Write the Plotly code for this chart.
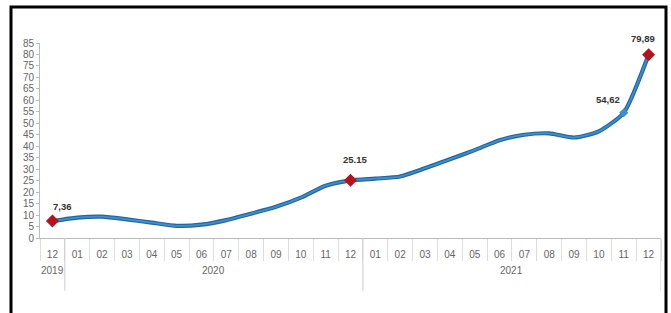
import plotly.graph_objects as go

years = ["2019"] + ["2020"] * 12 + ["2021"] * 12
months = ["12", "01", "02", "03", "04", "05", "06", "07", "08", "09", "10", "11", "12",
          "01", "02", "03", "04", "05", "06", "07", "08", "09", "10", "11", "12"]
values = [7.36, 8.9, 9.3, 8.1, 6.7, 5.3, 5.8, 7.8, 10.6, 13.6, 17.6, 22.8, 25.15,
          25.9, 26.8, 30.4, 34.3, 38.3, 42.6, 45.0, 45.6, 43.8, 46.5, 54.62, 79.89]
labeled_idx = [0, 12, 23, 24]
labels = ["7,36", "25.15", "54,62", "79,89"]
red_idx = [0, 12, 24]
y_ticks = list(range(0, 90, 5))

n = len(months)
xi = list(range(n))

fig = go.Figure()
fig.add_trace(go.Scatter(x=xi, y=values, mode="lines",
                         line=dict(color="#22659f", width=4.2, shape="spline", smoothing=0.6),
                         hoverinfo="skip", showlegend=False))
fig.add_trace(go.Scatter(x=xi, y=values, mode="lines",
                         line=dict(color="#3d90d0", width=1.8, shape="spline", smoothing=0.6),
                         showlegend=False))
fig.add_trace(go.Scatter(x=red_idx, y=[values[i] for i in red_idx], mode="markers",
                         marker=dict(symbol="diamond", size=10, color="#b5121b"),
                         showlegend=False))
fig.add_trace(go.Scatter(x=[23], y=[values[23]], mode="markers",
                         marker=dict(symbol="diamond", size=7, color="#3b8fd0"),
                         showlegend=False))
# invisible trace carrying the boundary-tick axis
bounds = [i + 0.5 for i in range(-1, n)]
fig.add_trace(go.Scatter(x=bounds, y=[None] * len(bounds), xaxis="x2", mode="lines",
                         showlegend=False, hoverinfo="skip"))

offsets = {0: (10, 15), 12: (4, 21), 23: (-16, 13), 24: (-6, 16)}
for i, t in zip(labeled_idx, labels):
    dx, dy = offsets[i]
    fig.add_annotation(x=i, y=values[i], xref="x", yref="y", text=f"<b>{t}</b>",
                       showarrow=False, xshift=dx, yshift=dy,
                       font=dict(size=9.5, color="#333333", family="Liberation Sans, Arial"))

# year labels and dividers
groups = []
for i, yv in enumerate(years):
    if not groups or groups[-1][0] != yv:
        groups.append([yv, i, i])
    else:
        groups[-1][2] = i
for yv, a, b in groups:
    fig.add_annotation(x=(a + b) / 2, y=-0.165, xref="x", yref="paper", text=yv,
                       yanchor="middle", xanchor="center",
                       showarrow=False, font=dict(size=10, color="#666666"))
    fig.add_shape(type="line", xref="x", yref="paper", x0=b + 0.5, x1=b + 0.5,
                  y0=0, y1=-0.27, line=dict(color="#cccccc", width=1))

# frame around the picture
L, R, T, B = 40, 10, 43, 75
W, H = 671, 313
pw, ph = W - L - R, H - T - B
def px(v):
    return (v - L) / pw
def py(v):
    return (H - B - v) / ph
fig.add_shape(type="rect", xref="paper", yref="paper",
              x0=px(11), x1=px(666), y0=py(330), y1=py(7),
              line=dict(color="black", width=3), fillcolor="rgba(0,0,0,0)")

fig.update_layout(
    width=W, height=H, margin=dict(l=L, r=R, t=T, b=B),
    paper_bgcolor="white", plot_bgcolor="white",
    font=dict(family="Liberation Sans, Arial", size=10, color="#666666"),
    xaxis=dict(range=[-0.5, n - 0.5], tickvals=xi, ticktext=months, showline=True,
               linecolor="#bbbbbb", linewidth=1, ticks="outside", ticklen=7,
               tickcolor="rgba(0,0,0,0)", showgrid=False, zeroline=False,
               tickfont=dict(size=10, color="#666666")),
    xaxis2=dict(range=[-0.5, n - 0.5], overlaying="x", anchor="y", side="bottom",
                tickvals=bounds, ticks="outside", ticklen=22, tickcolor="#dddddd",
                showticklabels=False, showgrid=False, zeroline=False, showline=False),
    yaxis=dict(range=[0, 85], tickvals=y_ticks, showline=True, linecolor="#bbbbbb",
               linewidth=1, ticks="outside", ticklen=3, tickcolor="#bbbbbb",
               showgrid=False, zeroline=False, tickfont=dict(size=10, color="#666666")),
)

fig.write_html("out.html", config={"displayModeBar": False},
               post_script="document.body.style.margin='0';")
